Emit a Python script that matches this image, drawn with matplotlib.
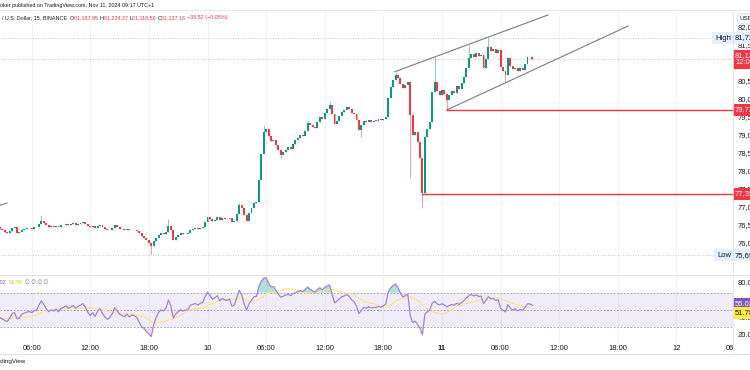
import numpy as np
import pandas as pd
import matplotlib
matplotlib.use("Agg")
import matplotlib.pyplot as plt
from matplotlib.transforms import blended_transform_factory

plt.rcParams['font.family'] = ['Liberation Sans', 'DejaVu Sans']

# 15 min BTC/USD candles, Nov 9 02:45 -> Nov 11 09:15 (closes)
start_time = "2024-11-09 02:45"
first_open = 76480
closes = [
    76420, 76380, 76330, 76300, 76360, 76450, 76470, 76310, 76330, 76400,
    76420, 76440, 76450, 76430, 76460, 76470, 76560, 76650, 76590, 76520,
    76470, 76500, 76480, 76510, 76470, 76520, 76540, 76560, 76530, 76550,
    76570, 76540, 76560, 76580, 76600, 76560, 76500, 76460, 76490, 76440,
    76500, 76530, 76470, 76420, 76380, 76400, 76440, 76520, 76480, 76430,
    76410, 76390, 76420, 76380, 76400, 76390, 76370, 76300, 76220, 76180,
    76100, 76030, 75950, 76080, 76180, 76260, 76300, 76280, 76330, 76500,
    76400, 76110, 76200, 76250, 76300, 76270, 76290, 76300, 76400, 76420,
    76440, 76410, 76450, 76470, 76600, 76750, 76700, 76640, 76680, 76740,
    76660, 76720, 76700, 76690, 76720, 76610, 76640, 76820, 77080, 77000,
    76800, 76640, 76850, 77000, 77140, 77170, 77780, 78500, 79100, 79200,
    79000, 78850, 78900, 78750, 78600, 78470, 78550, 78620, 78700, 78650,
    78780, 78890, 78950, 79030, 79000, 79150, 79360, 79300, 79260, 79220,
    79400, 79530, 79480, 79650, 79760, 79860, 79620, 79330, 79420, 79550,
    79670, 79720, 79800, 79750, 79650, 79600, 79450, 79170, 79300, 79420,
    79380, 79450, 79400, 79430, 79420, 79460, 79440, 79480, 79530, 80060,
    80350, 80560, 80700, 80600, 80450, 80330, 80420, 80500, 79580, 79030,
    79100, 78830, 78390, 77420, 78970, 79200, 79390, 80220, 80500, 80250,
    80150, 80280, 80180, 80000, 80150, 80250, 80200, 80380, 80300, 80470,
    80650, 80890, 81170, 81280, 81200, 81300, 81230, 81260, 80890, 81150,
    81470, 81350, 81420, 81300, 81380, 80920, 80800, 80700, 81170, 80950,
    80850, 80900, 80800, 80880, 80830, 81000, 81190, 81188, 81137,
]
# long wicks that stand out in the picture (bar index -> price)
wick_highs = {17: 76800, 69: 76700, 98: 77150, 108: 79300, 126: 79450,
              135: 79980, 162: 80780, 178: 81190, 192: 81530, 200: 81720,
              218: 81234}
wick_lows = {62: 75720, 115: 78390, 148: 78970, 168: 77830, 173: 77000,
             183: 79720, 207: 80500, 218: 81119}
# estimated closes before the visible window, only to warm up the RSI
warmup_closes = [76500, 76420, 76560, 76480, 76600, 76520, 76450, 76580,
                 76500, 76400, 76520, 76460, 76380, 76500, 76430, 76550,
                 76470, 76400, 76520, 76450, 76560, 76480, 76400, 76500,
                 76440, 76380, 76460, 76480]
# values shown in the RSI legend
rsi_label, rsi_ma_label = 55.02, 51.78

# drawings on the chart (bar index, price)
upper_channel = [(161.7, 80786), (224.4, 82361)]
lower_channel = [(182.9, 79722), (257.2, 82056)]
old_line = [(-3, 77000), (2.9, 77140)]
support_levels = [(183, 79722), (173, 77390)]

price_ticks = [82000, 81500, 80500, 80000, 79500, 79000, 78500, 78000,
               77500, 77000, 76500, 76000]
high_price, low_price = 81721, 75690
rsi_ticks = [80, 60, 40, 20]

UP, DOWN = '#089981', '#f23645'
TXT = '#131722'
GRID = '#f0f3fa'

opens = [first_open] + closes[:-1]
n = len(closes)
idx = np.arange(n)
o = np.array(opens, float)
c = np.array(closes, float)
hi = np.maximum(o, c)
lo = np.minimum(o, c)
for k, v in wick_highs.items():
    hi[k] = max(hi[k], v)
for k, v in wick_lows.items():
    lo[k] = min(lo[k], v)
up = c >= o

# RSI 14 + SMA 14
allc = pd.Series(warmup_closes + closes, dtype=float)
d = allc.diff()
g = d.clip(lower=0).ewm(alpha=1 / 14, adjust=False).mean()
l = (-d.clip(upper=0)).ewm(alpha=1 / 14, adjust=False).mean()
rsi_all = 100 - 100 / (1 + g / l)
ma_all = rsi_all.rolling(14).mean()
rsi = rsi_all.values[len(warmup_closes):]
rsi_ma = ma_all.values[len(warmup_closes):]

# time axis
times = pd.date_range(start_time, periods=310, freq="15min")
tick_idx = [i for i, t in enumerate(times) if t.minute == 0 and t.hour % 6 == 0]

fig = plt.figure(figsize=(7.5, 3.7), dpi=100)
fig.patch.set_facecolor('white')

def fy(px):
    return 1 - px / 370

x_left = 0.1 / 2.4425
x_right = 733.1 / 2.4425

# main price pane
ax = fig.add_axes([0, fy(275), 733 / 750, 265 / 370])
ax.set_xlim(x_left, x_right)
ax.set_ylim(75139, 82500)
ax.axis('off')
for t in tick_idx:
    ax.axvline(t, color=GRID, lw=0.8, zorder=0)

ax.axhline(high_price, color='#b2b5be', lw=0.6, ls=(0, (1, 2)), zorder=1)
ax.axhline(low_price, color='#b2b5be', lw=0.6, ls=(0, (1, 2)), zorder=1)
ax.axhline(closes[-1], color=DOWN, lw=0.6, ls=(0, (1, 2)), alpha=0.5, zorder=1)

cols = np.where(up, UP, DOWN)
ax.vlines(idx, lo, hi, colors=cols, lw=0.7, alpha=0.5, zorder=2)
body = np.maximum(np.abs(c - o), 12)
ax.bar(idx, body, bottom=np.minimum(o, c), width=0.8, color=cols, lw=0, zorder=3)

for line in (upper_channel, lower_channel, old_line):
    xs, ys = zip(*line)
    ax.plot(xs, ys, color='#787b86', lw=0.8, zorder=4)
for i0, p in support_levels:
    ax.plot([i0, x_right], [p, p], color='#f23645', lw=1.0, zorder=4)

# price scale
tr = blended_transform_factory(ax.transAxes, ax.transData)
sx = 738 / 733
for p in price_ticks:
    ax.text(sx, p, f"{p:,}", transform=tr, fontsize=5.5, color=TXT,
            va='center', ha='left', clip_on=False)
for i0, p in support_levels:
    ax.text(735 / 733, p, f"{p:,}", transform=tr, fontsize=5.5, color='white',
            va='center', ha='left', clip_on=False,
            bbox=dict(boxstyle='square,pad=0.3', fc='#f23645', ec='none'))
ax.text(735 / 733, closes[-1], f"{closes[-1]:,}\n12:04", transform=tr,
        fontsize=5.5, color='white', va='center', ha='left', clip_on=False,
        linespacing=1.1,
        bbox=dict(boxstyle='square,pad=0.3', fc='#f23645', ec='none'))
for p, name in ((high_price, 'High'), (low_price, 'Low')):
    ax.text(735 / 733, p, f"{p:,}", transform=tr, fontsize=5.5, color=TXT,
            va='center', ha='left', clip_on=False,
            bbox=dict(boxstyle='square,pad=0.3', fc='#e3effd', ec='none'))
    ax.text(731 / 733, p, name, transform=tr, fontsize=5.5, color=TXT,
            va='center', ha='right', clip_on=False,
            bbox=dict(boxstyle='square,pad=0.35', fc='#e3effd', ec='none'))

# RSI pane
rax = fig.add_axes([0, fy(343), 733 / 750, 68 / 370])
rax.set_xlim(x_left, x_right)
rax.set_ylim(11.92, 90.38)
rax.axis('off')
for t in tick_idx:
    rax.axvline(t, color=GRID, lw=0.8, zorder=0)
rax.axhspan(30, 70, color='#7e57c2', alpha=0.1, lw=0, zorder=0)
for lvl in (70, 50, 30):
    rax.axhline(lvl, color='#9598a1', lw=0.6, ls=(0, (2, 2)), zorder=1)
rax.fill_between(idx, 70, rsi, where=rsi > 70, interpolate=True,
                 color='#089981', alpha=0.3, lw=0)
rax.fill_between(idx, 30, rsi, where=rsi < 30, interpolate=True,
                 color='#f23645', alpha=0.15, lw=0)
rax.plot(idx, rsi_ma, color='#fbe38a', lw=0.9, zorder=2)
rax.plot(idx, rsi, color='#9c84d6', lw=0.9, zorder=3)

rtr = blended_transform_factory(rax.transAxes, rax.transData)
for v in rsi_ticks:
    rax.text(sx, v, f"{v:.2f}", transform=rtr, fontsize=5.5, color=TXT,
             va='center', ha='left', clip_on=False)
rax.text(735 / 733, 56.9, f"{rsi_label:.2f}", transform=rtr, fontsize=5.5,
         color='white', va='center', ha='left', clip_on=False,
         bbox=dict(boxstyle='square,pad=0.3', fc='#7e57c2', ec='none'))
rax.text(735 / 733, 46.5, f"{rsi_ma_label:.2f}", transform=rtr, fontsize=5.5,
         color=TXT, va='center', ha='left', clip_on=False,
         bbox=dict(boxstyle='square,pad=0.3', fc='#ffeb3b', ec='none'))

# RSI legend
fig.text(6 / 750, fy(283), f"{rsi_label:.2f}", fontsize=4, color='#7e57c2',
         ha='right', va='center')
fig.text(9 / 750, fy(283), f"{rsi_ma_label:.2f}", fontsize=4, color='#e0c200',
         ha='left', va='center')
fig.text(25 / 750, fy(283), "\u2205 \u2205 \u2205 \u2205", fontsize=4,
         color='#787b86', ha='left', va='center')

# pane separators
fig.add_artist(plt.Line2D([0, 1], [fy(275), fy(275)], color='#e0e3eb', lw=0.8))
fig.add_artist(plt.Line2D([0, 1], [fy(354), fy(354)], color='#e0e3eb', lw=0.8))
fig.add_artist(plt.Line2D([0, 1], [fy(10), fy(10)], color='#e0e3eb', lw=0.6))
fig.add_artist(plt.Line2D([733 / 750, 733 / 750], [fy(354), fy(10)],
                          color='#e0e3eb', lw=0.6))

# time labels
tax = fig.add_axes([0, fy(354), 733 / 750, 11 / 370])
tax.set_xlim(x_left, x_right)
tax.set_ylim(0, 1)
tax.axis('off')
for t in tick_idx:
    tm = times[t]
    if tm.hour == 0:
        lab = str(tm.day)
    else:
        lab = tm.strftime("%H:%M")
    tax.text(t, 0.5, lab, fontsize=5.5, color=TXT, ha='center', va='center',
             fontweight='bold' if tm.day == 11 and tm.hour == 0 else 'normal',
             clip_on=True)

# header
fig.text(0, fy(5), "oker published on TradingView.com, Nov 11, 2024 09:17 UTC+1",
         fontsize=3.9, color=TXT, va='center', ha='left')
parts = [("/ U.S. Dollar, 15, BINANCE  ", TXT), ("O", TXT), ("81,187.95 ", DOWN),
         ("H", TXT), ("81,234.27 ", DOWN), ("L", TXT), ("81,118.56 ", DOWN),
         ("C", TXT), ("81,137.16 ", DOWN), ("\u221238.52 (\u22120.05%)", DOWN)]
renderer = fig.canvas.get_renderer()
xpos = 2
for s, col in parts:
    t = fig.text(xpos / 750, fy(18), s, fontsize=3.9, color=col, va='center', ha='left')
    xpos += t.get_window_extent(renderer).width
fig.text(740 / 750, fy(19), "USD", fontsize=4.5, color=TXT, va='center', ha='left',
         bbox=dict(boxstyle='round,pad=0.4', fc='white', ec='#d1d4dc', lw=0.6))
fig.text(26 / 750, fy(362), "TradingView", fontsize=4.5, color=TXT,
         va='center', ha='right')

fig.savefig("out.png", dpi=100)
